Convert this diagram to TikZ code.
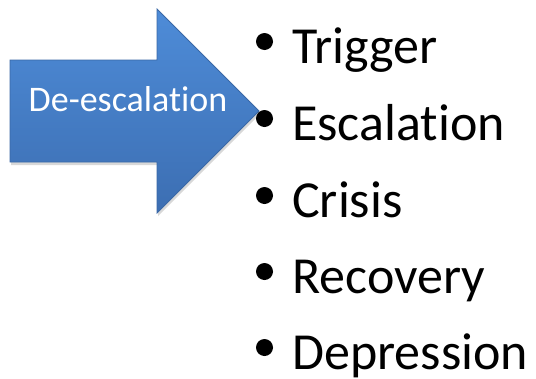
\documentclass[tikz,border=0pt]{standalone}
\usepackage{fontspec}
\setmainfont{Carlito}[Ligatures={NoCommon,NoRequired,NoContextual}]
\usetikzlibrary{shadows}
\definecolor{arrtop}{HTML}{4E8CD8}
\definecolor{arrbot}{HTML}{3C6EB2}
\definecolor{arredge}{HTML}{3A68A6}
\tikzset{
  itemtext/.style={anchor=base west, inner sep=0pt, font=\fontsize{52}{52}\selectfont, text=black},
  bulletdot/.style={circle, fill=black, minimum size=17pt, inner sep=0pt},
  arrowtext/.style={inner sep=0pt, anchor=base, font=\fontsize{36}{36}\selectfont, text=white}
}
\begin{document}
\begin{tikzpicture}[x=1pt,y=-1pt]
\useasboundingbox (0,0) rectangle (536,378);
\fill[white] (0,0) rectangle (536,378);
% block arrow
\path[draw=arredge, line width=0.8pt, top color=arrtop, bottom color=arrbot,
      drop shadow={opacity=0.3, shadow xshift=1pt, shadow yshift=-3pt}]
  (10,60) -- (157,60) -- (157,9) -- (259,111) -- (157,213) -- (157,162) -- (10,162) -- cycle;
\node[arrowtext] (lbl) at (128,111) {De-escalation};
% bullet list
\foreach \i/\t/\y in {1/Trigger/63, 2/Escalation/140, 3/Crisis/217, 4/Recovery/293, 5/Depression/369}{
  \node[bulletdot] (b\i) at (264.5,\y-21.5) {};
  \node[itemtext] (t\i) at (292,\y) {\t};
}
\end{tikzpicture}
\end{document}
